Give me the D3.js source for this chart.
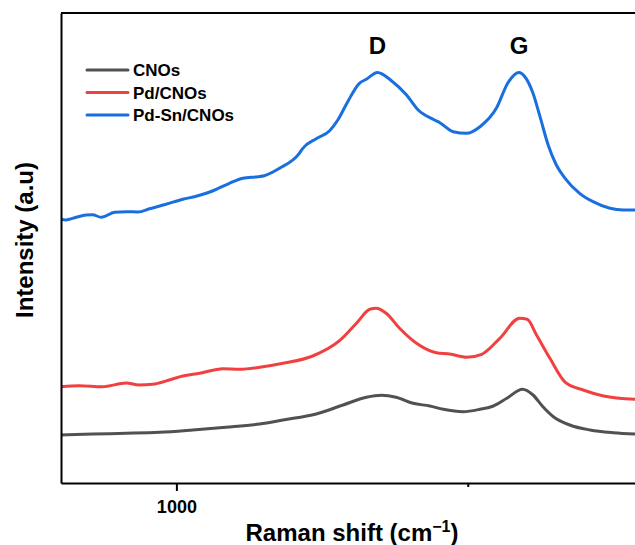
<!DOCTYPE html>
<html>
<head>
<meta charset="utf-8">
<script src="https://cdn.jsdelivr.net/npm/d3@7"></script>
<style>
  body { margin: 0; background: #fff; }
  svg { display: block; font-family: "Liberation Sans", Arial, sans-serif; }
</style>
</head>
<body>
<svg id="chart" width="635" height="545"></svg>
<script>
// ---- Data (Raman shift in cm^-1, intensity in a.u.) ----
const seriesNames = ["CNOs", "Pd/CNOs", "Pd-Sn/CNOs"];
const seriesColors = ["#515151", "#F14040", "#1A6FDF"];

const cnosShift = [802, 856, 914, 971, 1028, 1085, 1143, 1183, 1240, 1286, 1326, 1352, 1377, 1406, 1435, 1458, 1492, 1521, 1544, 1567, 1594, 1612, 1629, 1647, 1675, 1710, 1750, 1787];
const cnosIntensity = [48, 49, 49.7, 50.7, 53, 55.7, 59, 63, 69, 78, 85.7, 87.7, 85.7, 79.7, 77, 73.7, 71.3, 73.7, 77, 84.7, 93.7, 88, 76.3, 66.3, 58, 53, 50.3, 49];

const pdShift = [802, 833, 873, 914, 936, 959, 988, 1011, 1040, 1080, 1108, 1143, 1183, 1234, 1280, 1309, 1332, 1343, 1360, 1383, 1412, 1446, 1469, 1498, 1524, 1555, 1589, 1602, 1618, 1641, 1668, 1698, 1733, 1787];
const pdIntensity = [96.3, 97.3, 96.3, 100, 98, 98.7, 103, 107, 109.7, 114.3, 113.7, 115.7, 119.7, 127, 142.3, 159.7, 173.7, 174.7, 169.7, 154.7, 139.7, 130.3, 129, 125.7, 128.7, 144.7, 164.7, 163.7, 148, 124.7, 100.3, 93, 87, 83.7];

const pdsnShift = [802, 810, 828, 845, 856, 871, 894, 914, 934, 954, 982, 1011, 1034, 1062, 1091, 1114, 1140, 1151, 1177, 1211, 1217, 1240, 1263, 1277, 1294, 1314, 1326, 1345, 1369, 1395, 1415, 1443, 1452, 1475, 1498, 1521, 1549, 1569, 1588, 1598, 1612, 1624, 1638, 1652, 1667, 1692, 1715, 1744, 1767, 1787];
const pdsnIntensity = [263.7, 263, 265.7, 268, 268.3, 265.7, 270.7, 271.3, 271, 274.3, 278.7, 283.7, 286.7, 292, 299.7, 304.7, 306.3, 307.3, 314.7, 329.7, 334.7, 344.3, 352.3, 363, 381.3, 399.7, 403.7, 410.5, 402.3, 388, 373, 363, 360.3, 351.3, 349.7, 356.3, 374.7, 400.3, 410.5, 406.3, 389.7, 366.3, 338, 318, 304.7, 289.7, 281.3, 274.7, 273, 273];

const majorTicks = [1000, 2000];
const minorTicks = [1500];
const peakLabels = ["D", "G"];
const peakShifts = [1345, 1588];

// ---- Layout ----
const svg = d3.select("#chart");
const mLeft = 61, mRight = 635, mTop = 13, mBottom = 483;

const x = d3.scaleLinear().domain([802, 1787]).range([mLeft, mRight]);
const y = d3.scaleLinear().domain([0, 470]).range([mBottom, mTop]);

const series = [
  { name: seriesNames[0], color: seriesColors[0], xs: cnosShift, ys: cnosIntensity },
  { name: seriesNames[1], color: seriesColors[1], xs: pdShift, ys: pdIntensity },
  { name: seriesNames[2], color: seriesColors[2], xs: pdsnShift, ys: pdsnIntensity }
];

const line = d3.line()
  .x(d => x(d[0]))
  .y(d => y(d[1]))
  .curve(d3.curveMonotoneX);

svg.append("defs").append("clipPath").attr("id", "clip")
  .append("rect").attr("x", mLeft).attr("y", mTop).attr("width", mRight - mLeft).attr("height", mBottom - mTop);

const plot = svg.append("g").attr("clip-path", "url(#clip)");
series.forEach(s => {
  plot.append("path")
    .datum(s.xs.map((v, i) => [v, s.ys[i]]))
    .attr("fill", "none")
    .attr("stroke", s.color)
    .attr("stroke-width", 3)
    .attr("stroke-linejoin", "round")
    .attr("stroke-linecap", "round")
    .attr("d", line);
});

// ---- Axes ----
const inDomain = v => v >= x.domain()[0] && v <= x.domain()[1];
const xAxis = d3.axisBottom(x)
  .tickValues(majorTicks.filter(inDomain))
  .tickFormat(d3.format("d"))
  .tickSize(8)
  .tickSizeOuter(0)
  .tickPadding(9);
const gx = svg.append("g").attr("transform", `translate(0,${mBottom})`).call(xAxis);
gx.select(".domain").attr("stroke", "#000").attr("stroke-width", 2);
gx.selectAll(".tick line").attr("stroke", "#000").attr("stroke-width", 2);
gx.selectAll(".tick text")
  .attr("fill", "#000")
  .style("font-size", "18px")
  .style("font-weight", "bold")
  .style("font-family", "'Liberation Sans', Arial, sans-serif");

const xMinor = d3.axisBottom(x).tickValues(minorTicks.filter(inDomain)).tickSize(4).tickFormat("");
const gxm = svg.append("g").attr("transform", `translate(0,${mBottom})`).call(xMinor);
gxm.select(".domain").remove();
gxm.selectAll(".tick line").attr("stroke", "#000").attr("stroke-width", 2);

const yAxis = d3.axisLeft(y).tickValues([]).tickSizeOuter(0);
const gy = svg.append("g").attr("transform", `translate(${mLeft},0)`).call(yAxis);
gy.select(".domain").attr("stroke", "#000").attr("stroke-width", 2);

// top frame
svg.append("line").attr("x1", mLeft).attr("x2", mRight).attr("y1", mTop).attr("y2", mTop)
  .attr("stroke", "#000").attr("stroke-width", 2);

// ---- Axis titles ----
const xt = svg.append("text")
  .attr("x", 352).attr("y", 541)
  .attr("text-anchor", "middle")
  .style("font-size", "24px").style("font-weight", "bold")
  .attr("fill", "#000");
xt.append("tspan").text("Raman shift (cm");
xt.append("tspan").text("\u22121").attr("dy", -9).style("font-size", "16px");
xt.append("tspan").text(")").attr("dy", 9);

svg.append("text")
  .attr("transform", "translate(33,240) rotate(-90)")
  .attr("text-anchor", "middle")
  .style("font-size", "24px").style("font-weight", "bold")
  .attr("fill", "#000")
  .text("Intensity (a.u)");

// ---- Peak labels ----
svg.selectAll(".peak").data(peakLabels).join("text")
  .attr("class", "peak")
  .attr("x", (d, i) => x(peakShifts[i]))
  .attr("y", 54)
  .attr("text-anchor", "middle")
  .style("font-size", "24px").style("font-weight", "bold")
  .attr("fill", "#000")
  .text(d => d);

// ---- Legend ----
const legend = svg.append("g");
series.forEach((s, i) => {
  const ly = 70 + i * 22.5;
  legend.append("line")
    .attr("x1", 87).attr("x2", 128).attr("y1", ly).attr("y2", ly)
    .attr("stroke", s.color).attr("stroke-width", 3).attr("stroke-linecap", "round");
  legend.append("text")
    .attr("x", 133).attr("y", ly + 6)
    .style("font-size", "17px").style("font-weight", "bold")
    .attr("fill", "#000")
    .text(s.name);
});
</script>
</body>
</html>
